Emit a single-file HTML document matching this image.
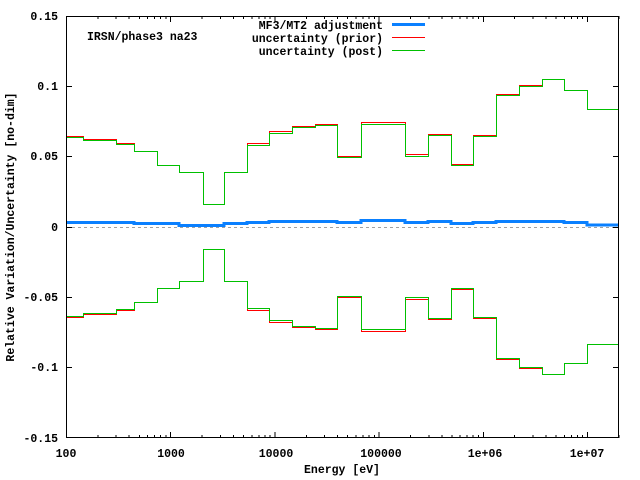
<!DOCTYPE html>
<html><head><meta charset="utf-8"><style>
html,body{margin:0;padding:0;background:#fff;}
svg{display:block;}
text{font-family:"Liberation Mono",monospace;font-size:11.5px;font-weight:bold;fill:#000;}
</style></head><body>
<svg width="640" height="480" viewBox="0 0 640 480" xmlns="http://www.w3.org/2000/svg">
<rect width="640" height="480" fill="#fff"/>
<line x1="66" y1="227.5" x2="619" y2="227.5" stroke="#a0a0a0" stroke-width="1" stroke-dasharray="3,3" shape-rendering="crispEdges"/>
<g stroke="#000" stroke-width="1" shape-rendering="crispEdges">
<path d="M66,16.5h6M66,86.5h6M66,156.5h6M66,227.5h6M66,297.5h6M66,367.5h6M66,437.5h6"/>
<path d="M619,16.5h-6M619,86.5h-6M619,156.5h-6M619,227.5h-6M619,297.5h-6M619,367.5h-6M619,437.5h-6"/>
</g>
<g text-anchor="end">
<text x="58" y="20">0.15</text>
<text x="58" y="90">0.1</text>
<text x="58" y="160">0.05</text>
<text x="58" y="231">0</text>
<text x="58" y="301">-0.05</text>
<text x="58" y="371">-0.1</text>
<text x="58" y="442">-0.15</text>
</g>
<g text-anchor="middle">
<text x="66" y="457">100</text>
<text x="171" y="457">1000</text>
<text x="276" y="457">10000</text>
<text x="381" y="457">100000</text>
<text x="485" y="457">1e+06</text>
<text x="587" y="457">1e+07</text>
<text x="342" y="473">Energy [eV]</text>
<text transform="translate(14,227) rotate(-90)">Relative Variation/Uncertainty [no-dim]</text>
</g>
<text x="87" y="40">IRSN/phase3 na23</text>
<g text-anchor="end">
<text x="383" y="29">MF3/MT2 adjustment</text>
<text x="383" y="42">uncertainty (prior)</text>
<text x="383" y="55">uncertainty (post)</text>
</g>
<g shape-rendering="crispEdges">
<line x1="392" y1="24.5" x2="425" y2="24.5" stroke="#0a80ff" stroke-width="3"/>
<line x1="392" y1="37.5" x2="425" y2="37.5" stroke="#ff0000" stroke-width="1"/>
<line x1="392" y1="50.5" x2="425" y2="50.5" stroke="#00c000" stroke-width="1"/>
</g>
<g fill="none" shape-rendering="crispEdges">
<path stroke="#ff0000" stroke-width="1" d="M66,136.5 H83.5 V139.5 H116.5 V143.5 H134.5 V151.5 H157.5 V165.5 H179.5 V172.5 H203.5 V204.5 H224.5 V172.5 H247.5 V143.5 H269.5 V131.5 H292.5 V126.5 H315.5 V124.5 H337.5 V156.5 H361.5 V122.5 H405.5 V154.5 H428.5 V134.5 H451.5 V164.5 H473.5 V135.5 H496.5 V94.5 H519.5 V85.5 H542.5 V79.5 H564.5 V90.5 H587.5 V109.5 H618"/>
<path transform="translate(0,454) scale(1,-1)" stroke="#ff0000" stroke-width="1" d="M66,136.5 H83.5 V139.5 H116.5 V143.5 H134.5 V151.5 H157.5 V165.5 H179.5 V172.5 H203.5 V204.5 H224.5 V172.5 H247.5 V143.5 H269.5 V131.5 H292.5 V126.5 H315.5 V124.5 H337.5 V156.5 H361.5 V122.5 H405.5 V154.5 H428.5 V134.5 H451.5 V164.5 H473.5 V135.5 H496.5 V94.5 H519.5 V85.5 H542.5 V79.5 H564.5 V90.5 H587.5 V109.5 H618"/>
<path stroke="#00c000" stroke-width="1" d="M66,137.5 H83.5 V140.5 H116.5 V144.5 H134.5 V151.5 H157.5 V165.5 H179.5 V172.5 H203.5 V204.5 H224.5 V172.5 H247.5 V145.5 H269.5 V133.5 H292.5 V127.5 H315.5 V125.5 H337.5 V157.5 H361.5 V124.5 H405.5 V156.5 H428.5 V135.5 H451.5 V165.5 H473.5 V136.5 H496.5 V95.5 H519.5 V86.5 H542.5 V79.5 H564.5 V90.5 H587.5 V109.5 H618"/>
<path transform="translate(0,454) scale(1,-1)" stroke="#00c000" stroke-width="1" d="M66,137.5 H83.5 V140.5 H116.5 V144.5 H134.5 V151.5 H157.5 V165.5 H179.5 V172.5 H203.5 V204.5 H224.5 V172.5 H247.5 V145.5 H269.5 V133.5 H292.5 V127.5 H315.5 V125.5 H337.5 V157.5 H361.5 V124.5 H405.5 V156.5 H428.5 V135.5 H451.5 V165.5 H473.5 V136.5 H496.5 V95.5 H519.5 V86.5 H542.5 V79.5 H564.5 V90.5 H587.5 V109.5 H618"/>
<path stroke="#0a80ff" stroke-width="3" d="M66,222.5 H134 V223.5 H179 V225.5 H224 V223.5 H247 V222.5 H269 V221.5 H337 V222.5 H361 V220.5 H405 V222.5 H428 V221.5 H451 V223.5 H473 V222.5 H496 V221.5 H564 V222.5 H587 V225 H618"/>
</g>
<rect x="66.5" y="16.5" width="552" height="421" fill="none" stroke="#000" stroke-width="1" shape-rendering="crispEdges"/>
<g stroke="#000" stroke-width="1" fill="none" shape-rendering="crispEdges">
<path d="
M66.5,438v-6M66.5,16v6
M97.9,438v-3M97.9,16v3 M116.2,438v-3M116.2,16v3 M129.2,438v-3M129.2,16v3 M139.3,438v-3M139.3,16v3 M147.6,438v-3M147.6,16v3 M154.6,438v-3M154.6,16v3 M160.6,438v-3M160.6,16v3 M165.9,438v-3M165.9,16v3
M170.7,438v-6M170.7,16v6
M202.1,438v-3M202.1,16v3 M220.4,438v-3M220.4,16v3 M233.4,438v-3M233.4,16v3 M243.5,438v-3M243.5,16v3 M251.8,438v-3M251.8,16v3 M258.8,438v-3M258.8,16v3 M264.8,438v-3M264.8,16v3 M270.1,438v-3M270.1,16v3
M274.9,438v-6M274.9,16v6
M306.3,438v-3M306.3,16v3 M324.6,438v-3M324.6,16v3 M337.6,438v-3M337.6,16v3 M347.7,438v-3M347.7,16v3 M356,438v-3M356,16v3 M363,438v-3M363,16v3 M369,438v-3M369,16v3 M374.3,438v-3M374.3,16v3
M379.1,438v-6M379.1,16v6
M410.5,438v-3M410.5,16v3 M428.8,438v-3M428.8,16v3 M441.8,438v-3M441.8,16v3 M451.9,438v-3M451.9,16v3 M460.2,438v-3M460.2,16v3 M467.2,438v-3M467.2,16v3 M473.2,438v-3M473.2,16v3 M478.5,438v-3M478.5,16v3
M483.3,438v-6M483.3,16v6
M514.7,438v-3M514.7,16v3 M533,438v-3M533,16v3 M546,438v-3M546,16v3 M556.1,438v-3M556.1,16v3 M564.4,438v-3M564.4,16v3 M571.4,438v-3M571.4,16v3 M577.4,438v-3M577.4,16v3 M582.7,438v-3M582.7,16v3
M587.5,438v-6M587.5,16v6
M618.9,438v-3M618.9,16v3"/>
</g>
</svg>
</body></html>
